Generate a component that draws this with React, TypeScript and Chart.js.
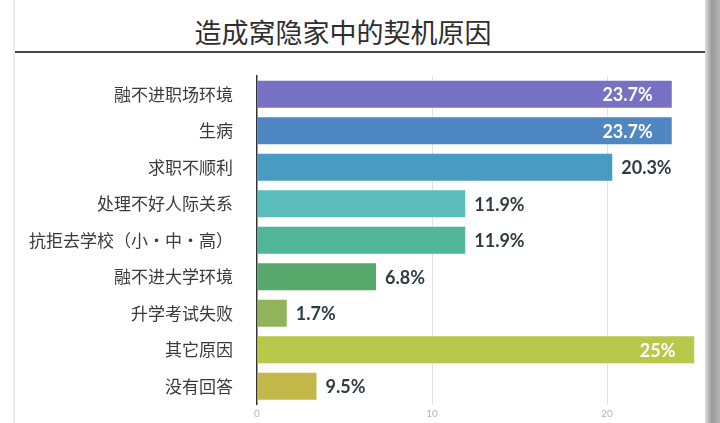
import React, { useEffect, useRef } from "react";
import { Chart, registerables } from "chart.js";

Chart.register(...registerables);

const titleText = "造成窝隐家中的契机原因";
const categories = [
  "融不进职场环境",
  "生病",
  "求职不顺利",
  "处理不好人际关系",
  "抗拒去学校（小・中・高）",
  "融不进大学环境",
  "升学考试失败",
  "其它原因",
  "没有回答",
];
const barValues = [23.7, 23.7, 20.3, 11.9, 11.9, 6.8, 1.7, 25, 3.4];
const valueLabels = ["23.7%", "23.7%", "20.3%", "11.9%", "11.9%", "6.8%", "1.7%", "25%", "9.5%"];
const barColors = [
  "#7771c3",
  "#4e87c1",
  "#4a9bc1",
  "#5bbcbc",
  "#51b598",
  "#58a96c",
  "#8fb45a",
  "#b7c94b",
  "#c3b84a",
];
const xTicks = [0, 10, 20];

const valueLabelPlugin = {
  id: "valueLabels",
  afterDatasetsDraw(chart: any) {
    const ctx = chart.ctx;
    const meta = chart.getDatasetMeta(0);
    ctx.save();
    ctx.font = "bold 18px Lato, 'Noto Sans', sans-serif";
    ctx.textBaseline = "middle";
    meta.data.forEach((bar: any, i: number) => {
      const v = barValues[i];
      const inside = v > 22;
      if (inside) {
        ctx.fillStyle = "#ffffff";
        ctx.textAlign = "right";
        ctx.fillText(valueLabels[i], bar.x - 19, bar.y + 1);
      } else {
        ctx.fillStyle = "#2f3c43";
        ctx.textAlign = "left";
        ctx.fillText(valueLabels[i], bar.x + 9, bar.y + 1);
      }
    });
    ctx.restore();
  },
};

export default function App() {
  const ref = useRef<HTMLCanvasElement>(null);
  useEffect(() => {
    if (!ref.current) return;
    const chart = new Chart(ref.current, {
      type: "bar",
      data: {
        labels: categories,
        datasets: [
          {
            data: barValues,
            backgroundColor: barColors,
            borderWidth: 0,
            barPercentage: 0.74,
            categoryPercentage: 1,
          },
        ],
      },
      options: {
        indexAxis: "y",
        animation: false,
        responsive: false,
        maintainAspectRatio: false,
        layout: { padding: { top: 76, right: 25.5, left: 0, bottom: 0 } },
        plugins: {
          legend: { display: false },
          tooltip: { enabled: false },
          title: { display: false },
        },
        scales: {
          x: {
            type: "linear",
            min: 0,
            max: 25,
            afterFit: (s: any) => {
              s.height = 18.5;
              s.paddingLeft = 0;
              s.paddingRight = 0;
            },
            afterBuildTicks: (s: any) => {
              s.ticks = xTicks.map((v) => ({ value: v }));
            },
            ticks: {
              color: "#b5b5b5",
              font: { size: 10, family: "Lato, 'Noto Sans', sans-serif" },
              padding: 3,
            },
            grid: {
              color: (c: any) => (c.tick && c.tick.value === 0 ? "rgba(0,0,0,0)" : "#e2e2e2"),
              drawTicks: false,
              lineWidth: 1,
            },
            border: { display: false },
          },
          y: {
            afterFit: (s: any) => {
              s.width = 257;
              s.paddingTop = 0;
              s.paddingBottom = 0;
            },
            ticks: {
              color: "#3a3a3a",
              font: { size: 17, family: "'Noto Sans CJK SC', sans-serif" },
              padding: 24,
            },
            grid: { display: false, drawTicks: false },
            border: { display: true, color: "#333333", width: 1.5 },
          },
        },
      },
      plugins: [valueLabelPlugin],
    });
    return () => chart.destroy();
  }, []);

  return (
    <div
      style={{
        position: "absolute",
        left: 0,
        top: 0,
        width: 720,
        height: 423,
        background: "#ffffff",
        overflow: "hidden",
      }}
    >
      <div
        style={{
          position: "absolute",
          left: 13,
          top: 0,
          width: 2,
          height: 423,
          background: "#ededed",
        }}
      />
      <div
        style={{
          position: "absolute",
          left: 705,
          top: 0,
          width: 15,
          height: 423,
          background: "linear-gradient(to right, #dedede, #9a9a9a 45%, #b3b3b3)",
        }}
      />
      <div
        style={{
          position: "absolute",
          left: 15,
          top: 51,
          width: 690,
          height: 2,
          background: "#474747",
        }}
      />
      <div
        style={{
          position: "absolute",
          left: 143,
          width: 400,
          top: 12,
          height: 40,
          lineHeight: "40px",
          textAlign: "center",
          fontFamily: "'Noto Sans CJK SC', sans-serif",
          fontSize: 27,
          color: "#2e2e2e",
        }}
      >
        {titleText}
      </div>
      <canvas
        ref={ref}
        width={720}
        height={423}
        style={{ position: "absolute", left: 0, top: 0, width: 720, height: 423 }}
      />
    </div>
  );
}
